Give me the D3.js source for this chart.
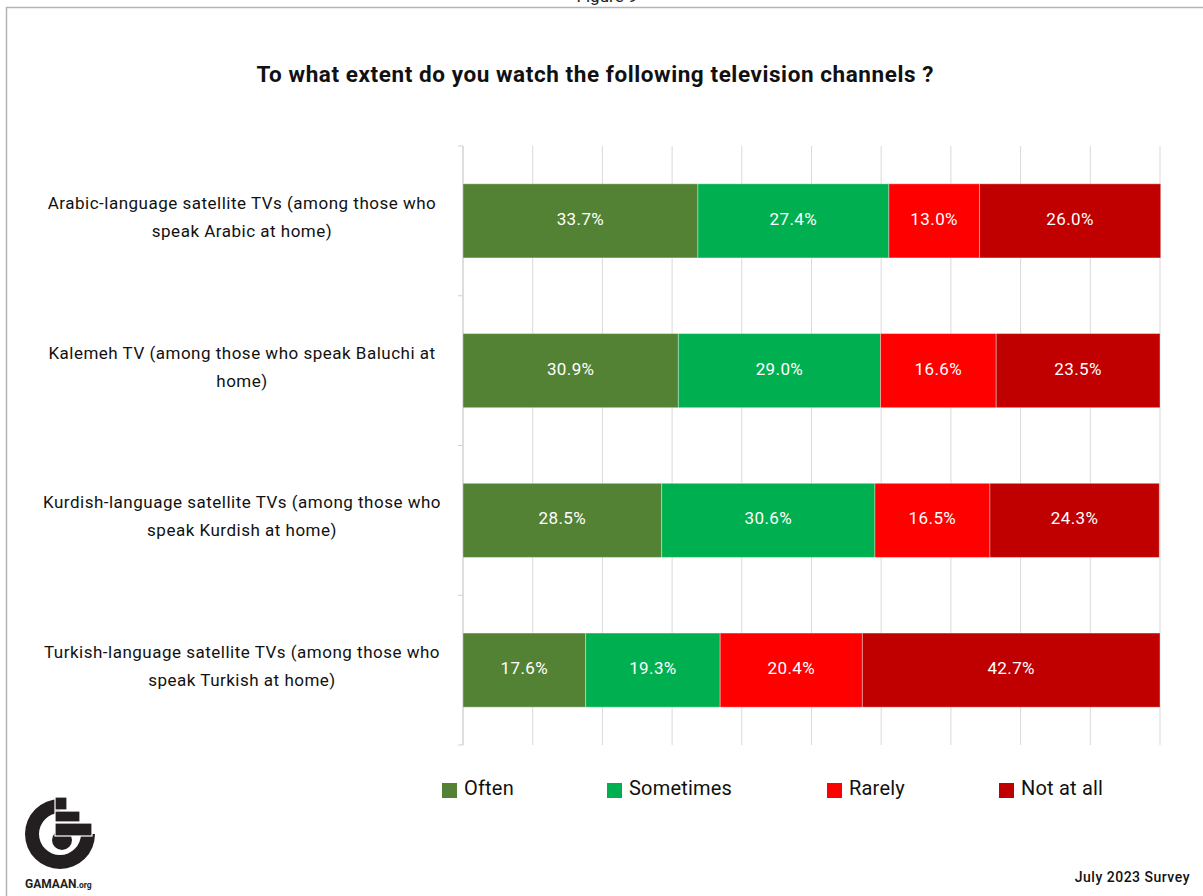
<!DOCTYPE html>
<html>
<head>
<meta charset="utf-8">
<script src="https://cdn.jsdelivr.net/npm/d3@7"></script>
<style>
  html, body { margin: 0; padding: 0; background: #fff; }
  svg { display: block; font-family: Roboto, "Noto Sans", sans-serif; }
</style>
</head>
<body>
<svg id="chart" width="1203" height="896"></svg>
<script>
// Survey answers, percent of respondents per channel group
const categories = [
  "Arabic-language satellite TVs (among those who speak Arabic at home)",
  "Kalemeh TV (among those who speak Baluchi at home)",
  "Kurdish-language satellite TVs (among those who speak Kurdish at home)",
  "Turkish-language satellite TVs (among those who speak Turkish at home)"
];
const seriesNames = ["Often", "Sometimes", "Rarely", "Not at all"];
const often      = [33.7, 30.9, 28.5, 17.6];
const sometimes  = [27.4, 29.0, 30.6, 19.3];
const rarely     = [13.0, 16.6, 16.5, 20.4];
const notAtAll   = [26.0, 23.5, 24.3, 42.7];
const xTicks = [0, 10, 20, 30, 40, 50, 60, 70, 80, 90, 100];
const seriesColors = ["#548235", "#00B050", "#FF0000", "#C00000"];

const title = "To what extent do you watch the following television channels ?";
const footnote = "July 2023 Survey";

const svg = d3.select("#chart");

// Frame around the figure
svg.append("rect")
  .attr("x", 6.5).attr("y", 7.5)
  .attr("width", 1230).attr("height", 920)
  .attr("fill", "none").attr("stroke", "#b4b4b4").attr("stroke-width", 1.5);

// Figure caption above the frame
svg.append("text")
  .attr("x", 607).attr("y", 2)
  .attr("text-anchor", "middle")
  .attr("font-size", 17)
  .attr("fill", "#222")
  .text("Figure 9");

// Title
svg.append("text")
  .attr("x", 595).attr("y", 82)
  .attr("text-anchor", "middle")
  .attr("font-size", 22.5)
  .attr("font-weight", 700)
  .attr("fill", "#111")
  .attr("textLength", 677)
  .attr("lengthAdjust", "spacing")
  .text(title);

// Scales
const x = d3.scaleLinear().domain([0, 100]).range([463, 1160]);
const y = d3.scaleBand().domain(categories).range([146, 745]).padding(0);
const barH = y.bandwidth() * 0.495;

const rows = categories.map((c, i) => ({
  cat: c,
  "Often": often[i],
  "Sometimes": sometimes[i],
  "Rarely": rarely[i],
  "Not at all": notAtAll[i]
}));
const stacked = d3.stack().keys(seriesNames)(rows);
const color = d3.scaleOrdinal().domain(seriesNames).range(seriesColors);

// Vertical gridlines
svg.append("g")
  .selectAll("line")
  .data(xTicks)
  .join("line")
  .attr("x1", d => x(d)).attr("x2", d => x(d))
  .attr("y1", y.range()[0]).attr("y2", y.range()[1])
  .attr("stroke", "#d9d9d9").attr("stroke-width", 1);

// Category axis with ticks at band boundaries
const bounds = categories.map(c => y(c)).concat([y.range()[1]]);
const axisG = svg.append("g");
axisG.append("line")
  .attr("x1", x(0)).attr("x2", x(0))
  .attr("y1", y.range()[0]).attr("y2", y.range()[1])
  .attr("stroke", "#d0d0d0");
axisG.selectAll("line.tick")
  .data(bounds)
  .join("line")
  .attr("class", "tick")
  .attr("x1", x(0) - 5).attr("x2", x(0))
  .attr("y1", d => d).attr("y2", d => d)
  .attr("stroke", "#d0d0d0");

// Category labels, wrapped and centred
const labelX = 242;
const maxW = 412;
const labels = svg.append("g")
  .attr("font-size", 17)
  .attr("letter-spacing", 0.5)
  .attr("fill", "#111")
  .attr("text-anchor", "middle");
categories.forEach(c => {
  const cy = y(c) + y.bandwidth() / 2;
  const t = labels.append("text").attr("x", labelX);
  const words = c.split(" ");
  const lines = [];
  let line = [];
  const probe = labels.append("text").attr("visibility", "hidden");
  words.forEach(w => {
    const test = line.concat([w]).join(" ");
    probe.text(test);
    if (probe.node().getComputedTextLength() > maxW && line.length) {
      lines.push(line.join(" "));
      line = [w];
    } else {
      line.push(w);
    }
  });
  lines.push(line.join(" "));
  probe.remove();
  lines.forEach((l, k) => {
    t.append("tspan")
      .attr("x", labelX)
      .attr("y", cy - 12 + k * 28)
      .text(l);
  });
});

// Stacked bars
const barG = svg.append("g");
stacked.forEach(s => {
  barG.append("g")
    .attr("fill", color(s.key))
    .selectAll("rect")
    .data(s)
    .join("rect")
    .attr("x", d => x(d[0]))
    .attr("y", d => y(d.data.cat) + (y.bandwidth() - barH) / 2)
    .attr("width", d => x(d[1]) - x(d[0]))
    .attr("height", barH)
    .attr("stroke", "rgba(255,255,255,0.35)")
    .attr("stroke-width", 1);
});

// Value labels
const valG = svg.append("g")
  .attr("font-size", 17)
  .attr("font-weight", 400)
  .attr("letter-spacing", 0.4)
  .attr("fill", "#fff")
  .attr("text-anchor", "middle");
stacked.forEach(s => {
  valG.selectAll(null)
    .data(s)
    .join("text")
    .attr("x", d => (x(d[0]) + x(d[1])) / 2)
    .attr("y", d => y(d.data.cat) + y.bandwidth() / 2 + 4)
    .text(d => (d[1] - d[0]).toFixed(1) + "%");
});

// Legend
const legendX = [442, 607, 827, 999];
const legend = svg.append("g");
seriesNames.forEach((n, i) => {
  legend.append("rect")
    .attr("x", legendX[i]).attr("y", 783)
    .attr("width", 15).attr("height", 15)
    .attr("fill", color(n));
  legend.append("text")
    .attr("x", legendX[i] + 22).attr("y", 795)
    .attr("font-size", 20)
    .attr("letter-spacing", 0.2)
    .attr("fill", "#111")
    .text(n);
});

// Footnote
svg.append("text")
  .attr("x", 1190).attr("y", 882)
  .attr("text-anchor", "end")
  .attr("font-size", 14)
  .attr("font-weight", 500)
  .attr("letter-spacing", 0.5)
  .attr("fill", "#111")
  .text(footnote);

// GAMAAN logo
const logo = svg.append("g").attr("fill", "#231f20");
const cx = 60, cy = 834;
logo.append("path")
  .attr("transform", `translate(${cx},${cy})`)
  .attr("d", d3.arc()({
    innerRadius: 21, outerRadius: 35,
    startAngle: Math.PI / 2, endAngle: 2 * Math.PI
  }));
logo.append("circle").attr("cx", cx + 2).attr("cy", cy + 6).attr("r", 10);
const blocks = [
  [55, 797, 12, 13],
  [55, 811, 25, 11],
  [55, 823, 37, 13]
];
logo.selectAll("rect")
  .data(blocks)
  .join("rect")
  .attr("x", d => d[0]).attr("y", d => d[1])
  .attr("width", d => d[2]).attr("height", d => d[3])
  .attr("stroke", "#fff").attr("stroke-width", 1.2);
const brand = svg.append("text")
  .attr("x", 25).attr("y", 888)
  .attr("fill", "#231f20");
brand.append("tspan").attr("font-size", 12).attr("font-weight", 700).text("GAMAAN");
brand.append("tspan").attr("font-size", 8.5).attr("font-weight", 700).text(".org");
</script>
</body>
</html>
